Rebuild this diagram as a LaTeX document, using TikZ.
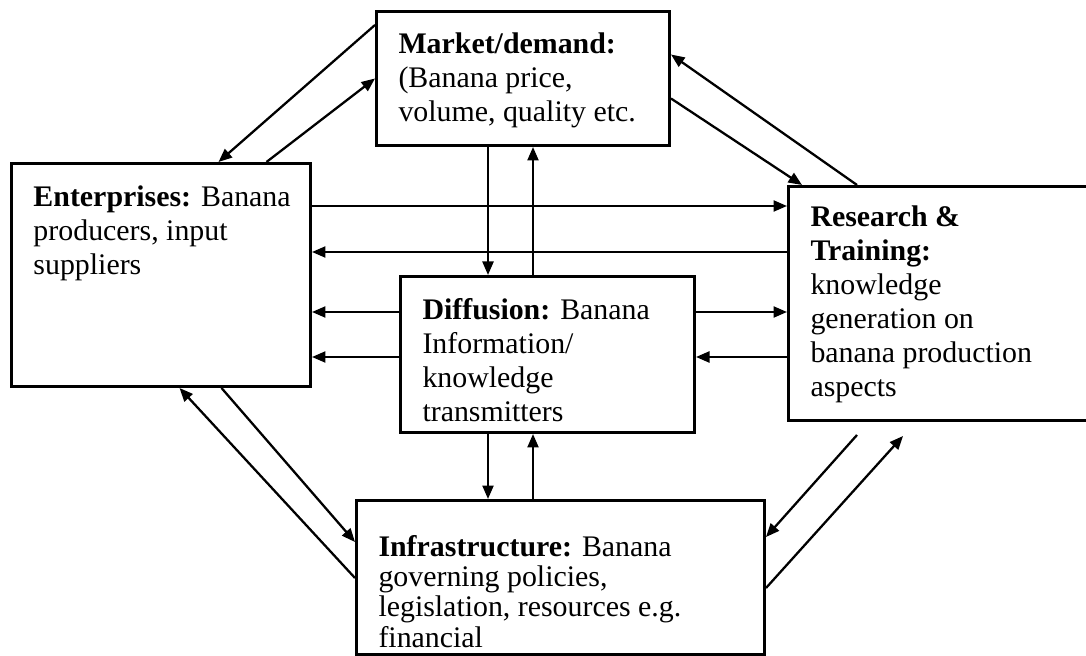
\documentclass[tikz,border=0pt]{standalone}
\usepackage{fontspec}
\setmainfont{Liberation Serif}
\usepackage{tikz}
\usetikzlibrary{arrows.meta}

\newcommand{\blocktext}[4]{\parbox[c][#2][t]{#1}{\vspace*{#3}\raggedright\leftskip=0.44cm #4}}

\begin{document}
\begin{tikzpicture}[
    > = {Triangle[length=0.27cm,width=0.22cm]},
    line width = 1.3pt,
    block/.style={rectangle, draw, line width=1.7pt, inner sep=0pt, anchor=north west,
        font=\fontsize{17}{19.4}\selectfont}
]
    \useasboundingbox (0,0) rectangle (21.72,13.1);

    \node[block] (mkt) at (7.50,12.90) {\blocktext{5.86cm}{2.68cm}{0.42cm}{%
        \textbf{Market/demand:}\\(Banana price,\\volume, quality etc.}};
    \node[block] (ent) at (0.20,9.86) {\blocktext{5.98cm}{4.46cm}{0.44cm}{%
        \textbf{Enterprises:} Banana\\producers, input\\suppliers}};
    \node[block] (dif) at (7.98,7.60) {\blocktext{5.88cm}{3.12cm}{0.44cm}{%
        \textbf{Diffusion:} Banana\\Information/\\knowledge\\transmitters}};
    \node[block] (res) at (15.74,9.40) {\blocktext{6.40cm}{4.68cm}{0.38cm}{%
        \textbf{Research \&}\\\textbf{Training:}\\knowledge\\generation on\\banana production\\aspects}};
    \node[block] (inf) at (7.10,3.12) {\blocktext{8.16cm}{3.08cm}{0.70cm}{%
        \fontsize{17}{17.2}\selectfont
        \textbf{Infrastructure:} Banana\\governing policies,\\legislation, resources e.g.\\financial}};

    % market and the side blocks
    \draw[->] ([yshift=-0.3cm]mkt.north west) -- ([xshift=1.15cm]ent.north);
    \draw[->] ([xshift=2.11cm]ent.north) -- (mkt.west);
    \draw[->] ([xshift=1.40cm]res.north west) -- ([yshift=0.48cm]mkt.east);
    \draw[->] ([yshift=-0.40cm]mkt.east) -- ([xshift=0.30cm]res.north west);

    % enterprises and research
    \draw[->] ([yshift=-0.88cm]ent.north east) coordinate (er) -- (er -| res.west);
    \draw[->] ([yshift=-1.34cm]res.north west) coordinate (re) -- (re -| ent.east);

    % diffusion links
    \draw[->] ([yshift=-0.74cm]dif.north west) coordinate (d1) -- (d1 -| ent.east);
    \draw[->] ([yshift=-1.64cm]dif.north west) coordinate (d2) -- (d2 -| ent.east);
    \draw[->] (d1 -| dif.east) -- (d1 -| res.west);
    \draw[->] (d2 -| res.west) -- (d2 -| dif.east);
    \draw[->] ([xshift=2.26cm]mkt.south west) coordinate (m1) -- (m1 |- dif.north);
    \path ([xshift=3.16cm]mkt.south west) coordinate (m2);
    \draw[->] (m2 |- dif.north) -- (m2);
    \draw[->] (m1 |- dif.south) -- (m1 |- inf.north);
    \draw[->] (m2 |- inf.north) -- (m2 |- dif.south);

    % infrastructure and the side blocks
    \draw[->] ([xshift=1.21cm]ent.south) -- ([yshift=-0.86cm]inf.north west);
    \draw[->] ([yshift=-1.58cm]inf.north west) -- ([xshift=0.37cm]ent.south);
    \draw[->] ([shift={(1.40cm,-0.26cm)}]res.south west) -- ([yshift=-0.76cm]inf.north east);
    \draw[->] ([yshift=-1.78cm]inf.north east) -- ([shift={(2.32cm,-0.28cm)}]res.south west);
\end{tikzpicture}
\end{document}
